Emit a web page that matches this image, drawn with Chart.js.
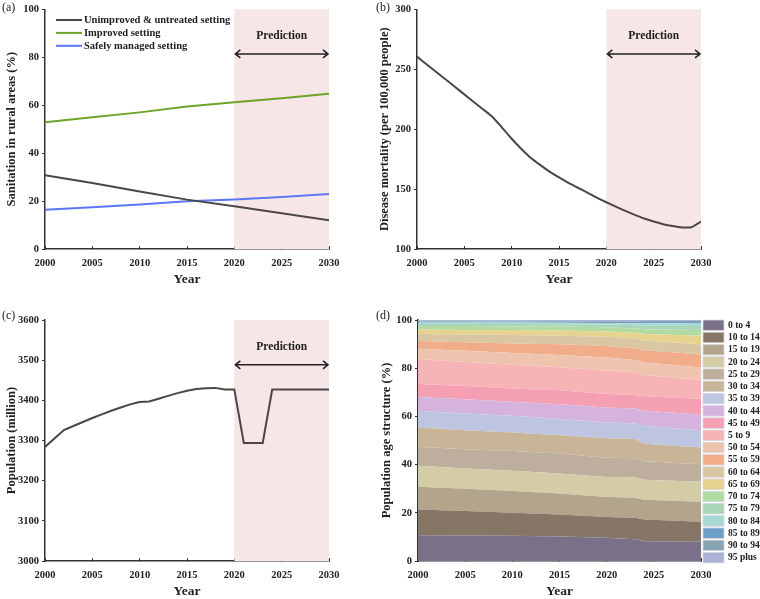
<!DOCTYPE html>
<html>
<head>
<meta charset="utf-8">
<script src="https://cdn.jsdelivr.net/npm/chart.js@4.4.1/dist/chart.umd.min.js"></script>
<style>
body{margin:0;background:#fff;width:760px;height:599px;position:relative;overflow:hidden}
.panel{position:absolute;width:380px;height:300px}
.tag{position:absolute;font:12px "Liberation Serif",serif;color:#222;line-height:12px}
</style>
</head>
<body>
<div class="panel" style="left:0;top:0"><canvas id="chartA" width="380" height="300"></canvas></div>
<div class="panel" style="left:380px;top:0"><canvas id="chartB" width="380" height="300"></canvas></div>
<div class="panel" style="left:0;top:300px"><canvas id="chartC" width="380" height="300"></canvas></div>
<div class="panel" style="left:380px;top:300px"><canvas id="chartD" width="380" height="300"></canvas></div>
<div class="tag" style="left:2px;top:1px">(a)</div>
<div class="tag" style="left:376px;top:1px">(b)</div>
<div class="tag" style="left:2px;top:309px">(c)</div>
<div class="tag" style="left:376px;top:309px">(d)</div>
<script>
// panel a - sanitation (%)
const sanitYears = [2000, 2005, 2010, 2015, 2020, 2025, 2030]
const unimproved = [30.8, 27.5, 24.0, 20.6, 17.8, 14.9, 12.0]
const improved = [52.9, 55.0, 57.0, 59.4, 61.2, 62.9, 64.8]
const safelyManaged = [16.4, 17.4, 18.6, 19.9, 20.7, 21.7, 22.9]

// panels b and c - yearly
const years = []
for (let y = 2000; y <= 2030; y++) years.push(y)
const mortality = [260.5, 254.2, 247.9, 241.6, 235.3, 229.0, 222.7, 216.4, 210.0, 201.1,
  192.0, 183.7, 176.2, 170.2, 164.6, 159.7, 155.2, 151.1, 147.0, 142.8,
  139.0, 135.4, 131.8, 128.5, 125.4, 122.9, 120.7, 119.1, 118.0, 118.2, 122.9]
const population = [3284, 3305, 3326, 3336, 3346, 3356, 3365, 3374, 3382, 3390,
  3396, 3397, 3404, 3411, 3418, 3424, 3428, 3430, 3431, 3427,
  3427, 3294, 3294, 3294, 3427, 3427, 3427, 3427, 3427, 3427, 3427]

// panel d - age structure (%)
const ageYears = [2000, 2005, 2010, 2015, 2020, 2023, 2024, 2030]
const ageGroups = ['0 to 4', '10 to 14', '15 to 19', '20 to 24', '25 to 29', '30 to 34', '35 to 39',
  '40 to 44', '45 to 49', '5 to 9', '50 to 54', '55 to 59', '60 to 64', '65 to 69', '70 to 74',
  '75 to 79', '80 to 84', '85 to 89', '90 to 94', '95 plus']
const ageShares = [
  [10.7, 10.6, 10.5, 10.2, 9.6, 9.0, 8.2, 8.0],
  [10.7, 10.1, 9.5, 9.1, 8.7, 8.9, 9.0, 8.3],
  [9.4, 9.3, 9.0, 8.7, 8.3, 8.3, 8.2, 8.3],
  [8.7, 8.4, 8.4, 8.3, 8.3, 8.5, 8.3, 8.3],
  [7.9, 8.0, 8.2, 8.3, 7.9, 7.9, 7.7, 7.2],
  [8.0, 7.9, 7.7, 7.6, 8.1, 8.0, 7.2, 7.0],
  [6.9, 6.9, 7.0, 6.7, 6.6, 6.5, 7.4, 7.2],
  [5.7, 5.9, 5.8, 6.1, 6.2, 6.2, 6.3, 6.5],
  [5.4, 5.5, 5.5, 5.9, 5.6, 5.6, 6.1, 6.4],
  [10.4, 10.0, 9.8, 9.5, 9.7, 9.4, 8.8, 7.9],
  [4.3, 4.6, 4.9, 5.1, 5.4, 5.1, 5.2, 5.2],
  [3.2, 3.6, 4.0, 4.4, 4.8, 4.9, 5.0, 5.4],
  [2.9, 3.2, 3.5, 3.6, 3.8, 4.1, 4.0, 4.2],
  [1.9, 1.9, 2.0, 2.1, 2.2, 2.3, 2.8, 3.6],
  [1.4, 1.6, 1.6, 1.7, 1.8, 1.8, 2.0, 2.3],
  [0.8, 0.8, 0.9, 0.9, 1.1, 1.3, 1.4, 1.7],
  [0.7, 0.7, 0.7, 0.7, 0.7, 0.9, 1.0, 1.0],
  [0.4, 0.4, 0.4, 0.4, 0.5, 0.5, 0.6, 0.7],
  [0.3, 0.3, 0.3, 0.3, 0.3, 0.3, 0.4, 0.4],
  [0.3, 0.3, 0.3, 0.4, 0.4, 0.5, 0.4, 0.4]
]
const ageColors = ['#7a7189', '#857665', '#b3a58c', '#d3cca6', '#bdae9d', '#c8b597', '#bdc5e0',
  '#d6b2df', '#f59fb2', '#f7b4b7', '#efc4ae', '#f1ad8a', '#d9c6a2', '#e6d38f', '#b1dba0',
  '#a9d6b9', '#a7d8d4', '#6f9fc8', '#8aa3b3', '#aab2d6']

const predictionStart = 2020
const predictionEnd = 2030

Chart.defaults.font.family = '"Liberation Serif", "Times New Roman", serif'
Chart.defaults.font.weight = 'bold'
Chart.defaults.color = '#222'
Chart.defaults.animation = false

function pts(xs, ys){
  return xs.map((x, i) => ({x: x, y: ys[i]}))
}

function makeScales(yMin, yMax, yStep, yTitle, yWidth, xHeight, yTitlePad, xTitlePad){
  return {
    x: {
      type: 'linear', min: 2000, max: 2030, z: 1,
      ticks: {stepSize: 5, padding: 11, font: {size: 10.5}, callback: v => String(v), maxRotation: 0},
      grid: {drawOnChartArea: false, tickLength: -3, color: '#333', lineWidth: 1},
      border: {color: '#333', width: 1.5},
      title: {display: true, text: 'Year', font: {size: 13.5}, padding: {top: 0, bottom: xTitlePad}},
      afterFit: s => { s.height = xHeight }
    },
    y: {
      min: yMin, max: yMax, z: 1,
      ticks: {stepSize: yStep, padding: 3, font: {size: 10.5}, callback: v => String(v)},
      grid: {drawOnChartArea: false, tickLength: 3, color: '#333', lineWidth: 1},
      border: {color: '#333', width: 1.5},
      title: {display: true, text: yTitle, font: {size: 12.5}, padding: {top: yTitlePad, bottom: 0}},
      afterFit: s => { s.width = yWidth }
    }
  }
}

const predictionPlugin = {
  id: 'prediction',
  beforeDatasetsDraw(chart){
    const {ctx, chartArea, scales} = chart
    const x0 = scales.x.getPixelForValue(predictionStart)
    const x1 = scales.x.getPixelForValue(predictionEnd)
    ctx.save()
    ctx.fillStyle = '#f6e6e6'
    ctx.fillRect(x0, chartArea.top, x1 - x0, chartArea.bottom - chartArea.top)
    ctx.restore()
  },
  afterDatasetsDraw(chart){
    const {ctx, chartArea, scales} = chart
    const x0 = scales.x.getPixelForValue(predictionStart)
    const x1 = scales.x.getPixelForValue(predictionEnd)
    const h = chartArea.bottom - chartArea.top
    const ya = chartArea.bottom - 0.814 * h
    const yt = chartArea.bottom - 0.887 * h
    ctx.save()
    ctx.strokeStyle = '#222'
    ctx.lineWidth = 1.5
    ctx.beginPath()
    ctx.moveTo(x0 + 1, ya); ctx.lineTo(x1 - 1, ya)
    ctx.moveTo(x0 + 6, ya - 4); ctx.lineTo(x0 + 1, ya); ctx.lineTo(x0 + 6, ya + 4)
    ctx.moveTo(x1 - 6, ya - 4); ctx.lineTo(x1 - 1, ya); ctx.lineTo(x1 - 6, ya + 4)
    ctx.stroke()
    ctx.fillStyle = '#222'
    ctx.font = 'bold 11.5px "Liberation Serif", serif'
    ctx.textAlign = 'center'
    ctx.textBaseline = 'middle'
    ctx.fillText('Prediction', (x0 + x1) / 2, yt)
    ctx.restore()
  }
}

// legend inside the plot, panel a
const lineLegend = {
  id: 'lineLegend',
  afterDraw(chart){
    const ctx = chart.ctx
    const left = chart.chartArea.left
    ctx.save()
    ctx.font = 'bold 10.5px "Liberation Serif", serif'
    ctx.textBaseline = 'middle'
    chart.data.datasets.forEach((ds, i) => {
      const y = 20 + i * 12.9
      ctx.strokeStyle = ds.borderColor
      ctx.lineWidth = 2
      ctx.beginPath(); ctx.moveTo(left + 11, y); ctx.lineTo(left + 37, y); ctx.stroke()
      ctx.fillStyle = '#222'
      ctx.fillText(ds.label, left + 39, y + 0.5)
    })
    ctx.restore()
  }
}

// box legend on the right, panel d
const boxLegend = {
  id: 'boxLegend',
  afterDraw(chart){
    const ctx = chart.ctx
    const x = chart.chartArea.right + 2
    ctx.save()
    ctx.font = 'bold 9.5px "Liberation Serif", serif'
    ctx.textBaseline = 'middle'
    chart.data.datasets.forEach((ds, i) => {
      const y = 20 + i * 12.23
      ctx.fillStyle = ds.backgroundColor
      ctx.fillRect(x, y, 21, 10.5)
      ctx.strokeStyle = '#d8d8e0'
      ctx.lineWidth = 0.8
      ctx.strokeRect(x, y, 21, 10.5)
      ctx.fillStyle = '#222'
      ctx.fillText(ds.label, x + 25, y + 5.5)
    })
    ctx.restore()
  }
}

new Chart(document.getElementById('chartA'), {
  type: 'line',
  data: {
    datasets: [
      {label: 'Unimproved & untreated setting', data: pts(sanitYears, unimproved), borderColor: '#4d4646'},
      {label: 'Improved setting', data: pts(sanitYears, improved), borderColor: '#6ea42a'},
      {label: 'Safely managed setting', data: pts(sanitYears, safelyManaged), borderColor: '#5a78f5'}
    ]
  },
  options: {
    responsive: false,
    layout: {padding: {left: 0, top: 7, right: 51, bottom: 0}},
    elements: {point: {radius: 0}, line: {borderWidth: 2, tension: 0}},
    plugins: {legend: {display: false}, tooltip: {enabled: false}},
    scales: makeScales(0, 100, 20, 'Sanitation in rural areas (%)', 45, 51, 4.5, 12)
  },
  plugins: [predictionPlugin, lineLegend]
})

new Chart(document.getElementById('chartB'), {
  type: 'line',
  data: {
    datasets: [{label: 'Disease mortality', data: pts(years, mortality), borderColor: '#4d4646'}]
  },
  options: {
    responsive: false,
    layout: {padding: {left: 0, top: 7, right: 59, bottom: 0}},
    elements: {point: {radius: 0}, line: {borderWidth: 2, tension: 0.2}},
    plugins: {legend: {display: false}, tooltip: {enabled: false}},
    scales: makeScales(100, 300, 50, 'Disease mortality (per 100,000 people)', 37, 51, -3, 12)
  },
  plugins: [predictionPlugin]
})

new Chart(document.getElementById('chartC'), {
  type: 'line',
  data: {
    datasets: [{label: 'Population', data: pts(years, population), borderColor: '#4d4646'}]
  },
  options: {
    responsive: false,
    layout: {padding: {left: 0, top: 20, right: 51, bottom: 0}},
    elements: {point: {radius: 0}, line: {borderWidth: 2, tension: 0}},
    plugins: {legend: {display: false}, tooltip: {enabled: false}},
    scales: makeScales(3000, 3600, 100, 'Population (million)', 45, 39, 4.5, 0)
  },
  plugins: [predictionPlugin]
})

new Chart(document.getElementById('chartD'), {
  type: 'line',
  data: {
    datasets: ageGroups.map((g, i) => ({
      label: g,
      data: pts(ageYears, ageShares[i]),
      backgroundColor: ageColors[i],
      borderColor: ageColors[i],
      borderWidth: 0,
      fill: i === 0 ? 'origin' : '-1'
    }))
  },
  options: {
    responsive: false,
    layout: {padding: {left: 0, top: 20, right: 59, bottom: 0}},
    elements: {point: {radius: 0}, line: {tension: 0}},
    plugins: {legend: {display: false}, tooltip: {enabled: false}, filler: {propagate: false}},
    scales: (() => {
      const s = makeScales(0, 100, 20, 'Population age structure (%)', 38, 39, -1, 0)
      s.y.stacked = true
      return s
    })()
  },
  plugins: [boxLegend]
})
</script>
</body>
</html>
